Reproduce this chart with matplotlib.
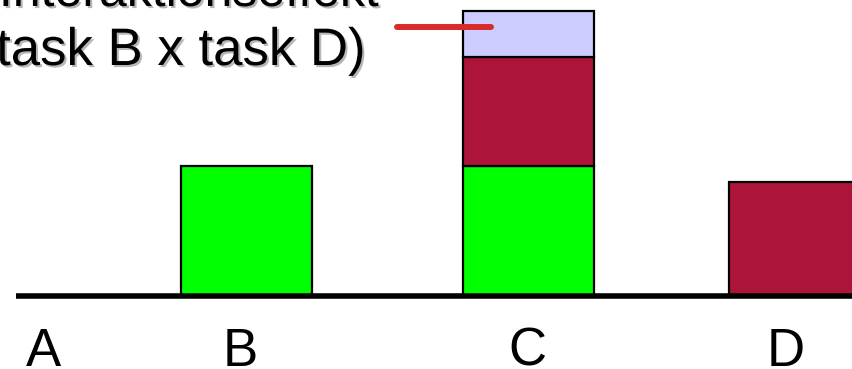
import matplotlib
matplotlib.use("Agg")
import matplotlib.pyplot as plt
import matplotlib.patheffects as pe

plt.rcParams['font.family'] = ['Liberation Sans', 'DejaVu Sans']

# ---- data ----
categories = ["A", "B", "C", "D"]
label_pos = [43, 240, 527, 786]          # x positions of category labels
bar_left = [181, 463, 729]               # left edges of bars for B, C, D
bar_width = 131
green_vals = [130, 130, 0]               # task B effect (B, C, D)
red_vals = [0, 109, 113.5]               # task D effect
lavender_vals = [0, 46, 0]               # interaction effect
title_lines = ["Interaktionseffekt", "(task B x task D)"]

GREEN = "#00FF00"
RED = "#AD1439"
LAV = "#CCCCFF"

fig = plt.figure(figsize=(8.52, 3.69), dpi=100)
ax = fig.add_axes([0, 0, 1, 1])
ax.set_xlim(0, 852)
ax.set_ylim(-73.5, 295.5)

edge = dict(edgecolor="black", linewidth=1.6, align="edge", width=bar_width)
bottoms1 = green_vals
bottoms2 = [g + r for g, r in zip(green_vals, red_vals)]
for i in range(len(bar_left)):
    if green_vals[i] > 0:
        ax.bar(bar_left[i], green_vals[i], color=GREEN, **edge, zorder=2)
    if red_vals[i] > 0:
        ax.bar(bar_left[i], red_vals[i], bottom=bottoms1[i], color=RED, **edge, zorder=2)
    if lavender_vals[i] > 0:
        ax.bar(bar_left[i], lavender_vals[i], bottom=bottoms2[i], color=LAV, **edge, zorder=2)

# baseline
for s in ["top", "right", "left"]:
    ax.spines[s].set_visible(False)
ax.spines["bottom"].set_position(("data", 0))
ax.spines["bottom"].set_bounds(16, 852)
ax.spines["bottom"].set_linewidth(4)
ax.spines["bottom"].set_capstyle("butt")
ax.spines["bottom"].set_zorder(3)
ax.set_xticks([])
ax.set_yticks([])

# category labels
for x, lab in zip(label_pos, categories):
    ax.text(x, -70.5, lab, ha="center", va="baseline", fontsize=38)

# title text with shadow
shadow = [pe.SimplePatchShadow(offset=(1.5, -1.5), shadow_rgbFace="#888888", alpha=0.6), pe.Normal()]
ax.text(379, 289.5, title_lines[0], ha="right", va="baseline", fontsize=36, path_effects=shadow)
ax.text(365, 230.5, title_lines[1], ha="right", va="baseline", fontsize=38, path_effects=shadow)

# pointer line to the interaction segment
ax.annotate("", xy=(491, 268.5), xytext=(397, 268.5),
            arrowprops=dict(arrowstyle="-", color="#D92B2B", lw=4.3, shrinkA=0, shrinkB=0),
            zorder=5)

fig.savefig("out.png", dpi=100)
